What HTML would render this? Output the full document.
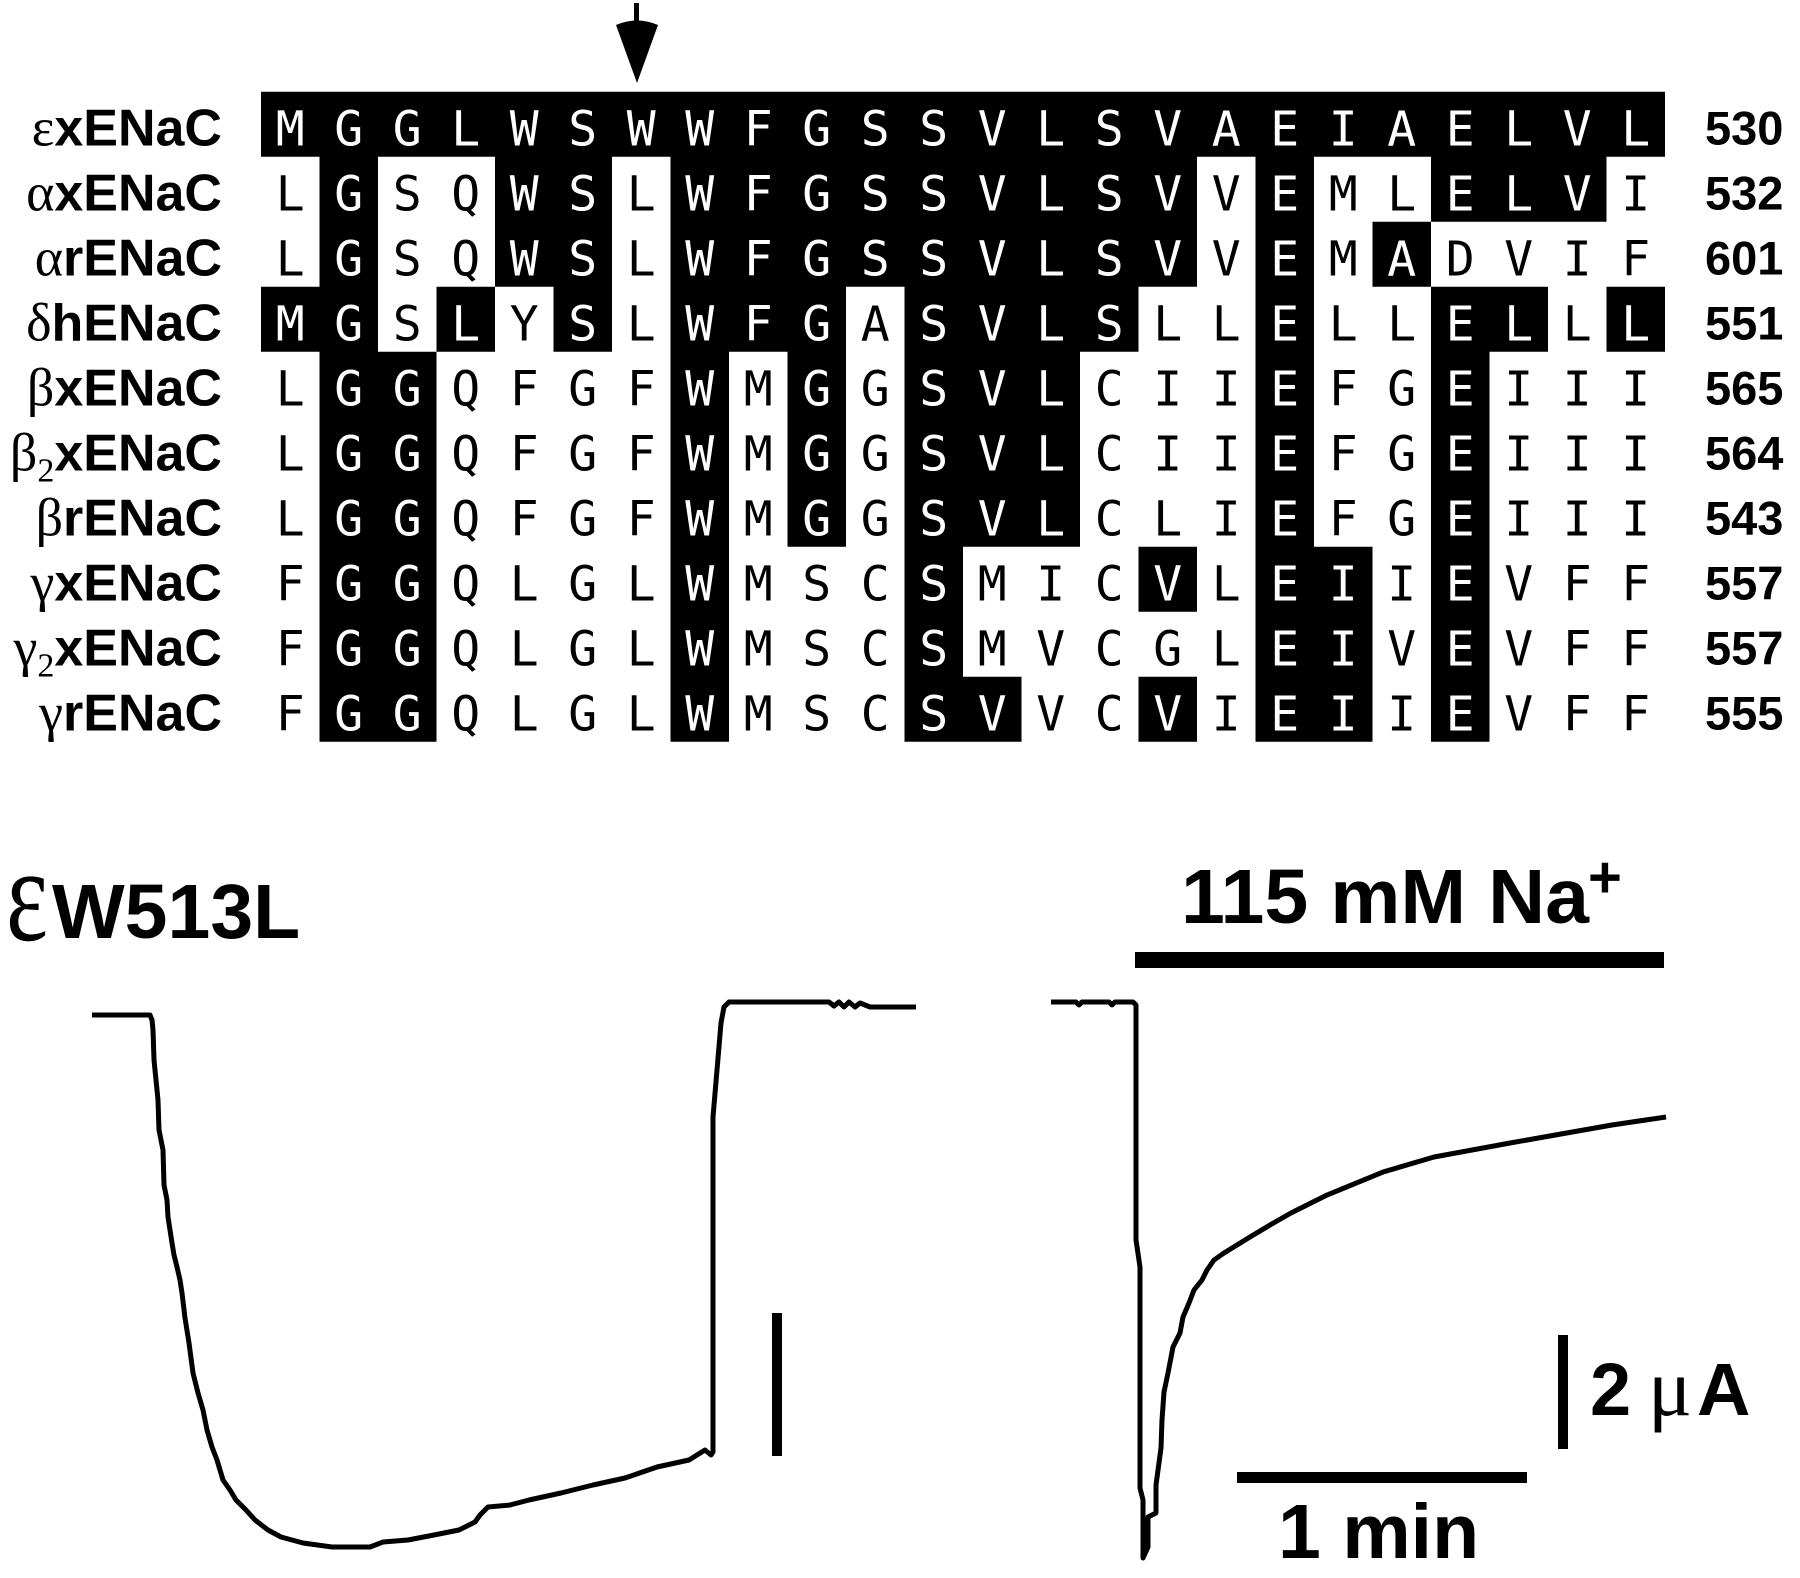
<!DOCTYPE html>
<html>
<head>
<meta charset="utf-8">
<style>
  html, body { margin:0; padding:0; background:#fff; }
  svg { display:block; }
  .lab { font-family:"Liberation Sans", sans-serif; font-weight:bold; font-size:52px; }
  .gk { font-family:"Liberation Serif", serif; font-weight:normal; font-size:54px; }
  .sub { font-family:"Liberation Serif", serif; font-weight:normal; font-size:34px; }
  .num { font-family:"Liberation Sans", sans-serif; font-weight:bold; font-size:47px; }
  .seq { font-family:"DejaVu Sans Mono", "Liberation Mono", monospace; font-size:48px; }
  .big { font-family:"Liberation Sans", sans-serif; font-weight:bold; }
</style>
</head>
<body>
<svg width="1800" height="1578" viewBox="0 0 1800 1578" xmlns="http://www.w3.org/2000/svg">
  <rect x="0" y="0" width="1800" height="1578" fill="#fff"/>
  <defs>
    <clipPath id="cp">
      <rect x="261" y="91.7" width="1404" height="65"/>
      <!-- row1 -->
      <rect x="319.5" y="156.7" width="58.5" height="65"/>
      <rect x="495" y="156.7" width="117" height="65"/>
      <rect x="670.5" y="156.7" width="526.5" height="65"/>
      <rect x="1255.5" y="156.7" width="58.5" height="65"/>
      <rect x="1431" y="156.7" width="175.5" height="65"/>
      <!-- row2 -->
      <rect x="319.5" y="221.7" width="58.5" height="65"/>
      <rect x="495" y="221.7" width="117" height="65"/>
      <rect x="670.5" y="221.7" width="526.5" height="65"/>
      <rect x="1255.5" y="221.7" width="58.5" height="65"/>
      <rect x="1372.5" y="221.7" width="58.5" height="65"/>
      <!-- row3 -->
      <rect x="261" y="286.7" width="117" height="65"/>
      <rect x="436.5" y="286.7" width="58.5" height="65"/>
      <rect x="553.5" y="286.7" width="58.5" height="65"/>
      <rect x="670.5" y="286.7" width="175.5" height="65"/>
      <rect x="904.5" y="286.7" width="234" height="65"/>
      <rect x="1255.5" y="286.7" width="58.5" height="65"/>
      <rect x="1431" y="286.7" width="117" height="65"/>
      <rect x="1606.5" y="286.7" width="58.5" height="65"/>
      <!-- rows 4-6 -->
      <rect x="319.5" y="351.7" width="117" height="195"/>
      <rect x="670.5" y="351.7" width="58.5" height="195"/>
      <rect x="787.5" y="351.7" width="58.5" height="195"/>
      <rect x="904.5" y="351.7" width="175.5" height="195"/>
      <rect x="1255.5" y="351.7" width="58.5" height="195"/>
      <rect x="1431" y="351.7" width="58.5" height="195"/>
      <!-- row7 -->
      <rect x="319.5" y="546.7" width="117" height="65"/>
      <rect x="670.5" y="546.7" width="58.5" height="65"/>
      <rect x="904.5" y="546.7" width="58.5" height="65"/>
      <rect x="1138.5" y="546.7" width="58.5" height="65"/>
      <rect x="1255.5" y="546.7" width="117" height="65"/>
      <rect x="1431" y="546.7" width="58.5" height="65"/>
      <!-- row8 -->
      <rect x="319.5" y="611.7" width="117" height="65"/>
      <rect x="670.5" y="611.7" width="58.5" height="65"/>
      <rect x="904.5" y="611.7" width="58.5" height="65"/>
      <rect x="1255.5" y="611.7" width="117" height="65"/>
      <rect x="1431" y="611.7" width="58.5" height="65"/>
      <!-- row9 -->
      <rect x="319.5" y="676.7" width="117" height="65"/>
      <rect x="670.5" y="676.7" width="58.5" height="65"/>
      <rect x="904.5" y="676.7" width="117" height="65"/>
      <rect x="1138.5" y="676.7" width="58.5" height="65"/>
      <rect x="1255.5" y="676.7" width="117" height="65"/>
      <rect x="1431" y="676.7" width="58.5" height="65"/>
    </clipPath>
    <g id="letters" class="seq" text-anchor="middle">
      <text x="290.25 348.75 407.25 465.75 524.25 582.75 641.25 699.75 758.25 816.75 875.25 933.75 992.25 1050.75 1109.25 1167.75 1226.25 1284.75 1343.25 1401.75 1460.25 1518.75 1577.25 1635.75" y="145.7">MGGLWSWWFGSSVLSVAEIAELVL</text>
      <text x="290.25 348.75 407.25 465.75 524.25 582.75 641.25 699.75 758.25 816.75 875.25 933.75 992.25 1050.75 1109.25 1167.75 1226.25 1284.75 1343.25 1401.75 1460.25 1518.75 1577.25 1635.75" y="210.7">LGSQWSLWFGSSVLSVVEMLELVI</text>
      <text x="290.25 348.75 407.25 465.75 524.25 582.75 641.25 699.75 758.25 816.75 875.25 933.75 992.25 1050.75 1109.25 1167.75 1226.25 1284.75 1343.25 1401.75 1460.25 1518.75 1577.25 1635.75" y="275.7">LGSQWSLWFGSSVLSVVEMADVIF</text>
      <text x="290.25 348.75 407.25 465.75 524.25 582.75 641.25 699.75 758.25 816.75 875.25 933.75 992.25 1050.75 1109.25 1167.75 1226.25 1284.75 1343.25 1401.75 1460.25 1518.75 1577.25 1635.75" y="340.7">MGSLYSLWFGASVLSLLELLELLL</text>
      <text x="290.25 348.75 407.25 465.75 524.25 582.75 641.25 699.75 758.25 816.75 875.25 933.75 992.25 1050.75 1109.25 1167.75 1226.25 1284.75 1343.25 1401.75 1460.25 1518.75 1577.25 1635.75" y="405.7">LGGQFGFWMGGSVLCIIEFGEIII</text>
      <text x="290.25 348.75 407.25 465.75 524.25 582.75 641.25 699.75 758.25 816.75 875.25 933.75 992.25 1050.75 1109.25 1167.75 1226.25 1284.75 1343.25 1401.75 1460.25 1518.75 1577.25 1635.75" y="470.7">LGGQFGFWMGGSVLCIIEFGEIII</text>
      <text x="290.25 348.75 407.25 465.75 524.25 582.75 641.25 699.75 758.25 816.75 875.25 933.75 992.25 1050.75 1109.25 1167.75 1226.25 1284.75 1343.25 1401.75 1460.25 1518.75 1577.25 1635.75" y="535.7">LGGQFGFWMGGSVLCLIEFGEIII</text>
      <text x="290.25 348.75 407.25 465.75 524.25 582.75 641.25 699.75 758.25 816.75 875.25 933.75 992.25 1050.75 1109.25 1167.75 1226.25 1284.75 1343.25 1401.75 1460.25 1518.75 1577.25 1635.75" y="600.7">FGGQLGLWMSCSMICVLEIIEVFF</text>
      <text x="290.25 348.75 407.25 465.75 524.25 582.75 641.25 699.75 758.25 816.75 875.25 933.75 992.25 1050.75 1109.25 1167.75 1226.25 1284.75 1343.25 1401.75 1460.25 1518.75 1577.25 1635.75" y="665.7">FGGQLGLWMSCSMVCGLEIVEVFF</text>
      <text x="290.25 348.75 407.25 465.75 524.25 582.75 641.25 699.75 758.25 816.75 875.25 933.75 992.25 1050.75 1109.25 1167.75 1226.25 1284.75 1343.25 1401.75 1460.25 1518.75 1577.25 1635.75" y="730.7">FGGQLGLWMSCSVVCVIEIIEVFF</text>
    </g>
  </defs>

  <!-- black letters on white -->
  <use href="#letters" fill="#000"/>
  <!-- black cells -->
  <rect x="0" y="0" width="1800" height="1578" fill="#000" clip-path="url(#cp)" shape-rendering="crispEdges"/>
  <!-- white letters inside black cells -->
  <g clip-path="url(#cp)">
    <use href="#letters" fill="#fff"/>
  </g>

  <!-- arrow -->
  <rect x="634" y="3" width="5" height="20" fill="#000"/>
  <path d="M616,25 Q637,16 658,25 L637,83 Z" fill="#000"/>

  <!-- row labels -->
  <g fill="#000">
    <text class="lab" x="222" y="145.7" text-anchor="end"><tspan class="gk">ε</tspan>xENaC</text>
    <text class="lab" x="222" y="210.7" text-anchor="end"><tspan class="gk">α</tspan>xENaC</text>
    <text class="lab" x="222" y="275.7" text-anchor="end"><tspan class="gk">α</tspan>rENaC</text>
    <text class="lab" x="222" y="340.7" text-anchor="end"><tspan class="gk">δ</tspan>hENaC</text>
    <text class="lab" x="222" y="405.7" text-anchor="end"><tspan class="gk">β</tspan>xENaC</text>
    <text class="lab" x="222" y="470.7" text-anchor="end"><tspan class="gk">β</tspan><tspan class="sub" dy="11">2</tspan><tspan dy="-11">xENaC</tspan></text>
    <text class="lab" x="222" y="535.7" text-anchor="end"><tspan class="gk">β</tspan>rENaC</text>
    <text class="lab" x="222" y="600.7" text-anchor="end"><tspan class="gk">γ</tspan>xENaC</text>
    <text class="lab" x="222" y="665.7" text-anchor="end"><tspan class="gk">γ</tspan><tspan class="sub" dy="11">2</tspan><tspan dy="-11">xENaC</tspan></text>
    <text class="lab" x="222" y="730.7" text-anchor="end"><tspan class="gk">γ</tspan>rENaC</text>
  </g>

  <!-- numbers -->
  <g class="num" fill="#000">
    <text x="1705" y="144.7">530</text>
    <text x="1705" y="209.7">532</text>
    <text x="1705" y="274.7">601</text>
    <text x="1705" y="339.7">551</text>
    <text x="1705" y="404.7">565</text>
    <text x="1705" y="469.7">564</text>
    <text x="1705" y="534.7">543</text>
    <text x="1705" y="599.7">557</text>
    <text x="1705" y="664.7">557</text>
    <text x="1705" y="729.7">555</text>
  </g>

  <!-- title εW513L -->
  <text transform="translate(6,940) scale(1,1.35)" font-family="Liberation Serif, serif" font-size="100" fill="#000">ε</text>
  <text class="big" x="52" y="938" font-size="77" fill="#000">W513L</text>

  <!-- 115 mM Na+ -->
  <text class="big" x="1181" y="923" font-size="77" textLength="408" lengthAdjust="spacingAndGlyphs" fill="#000">115 mM Na</text>
  <text class="big" x="1588" y="897" font-size="58" fill="#000">+</text>
  <rect x="1135" y="952" width="529" height="16" fill="#000"/>

  <!-- traces -->
  <g fill="none" stroke="#000" stroke-width="5" stroke-linejoin="round" stroke-linecap="butt">
    <polyline points="92,1015 150,1015 152,1020 153,1030 154,1060 158,1100 159,1130 163,1150 164,1185 167,1200 168,1217 172,1243 174,1255 177,1267 180,1280 182,1293 185,1318 189,1343 193,1373 198,1393 203,1410 207,1430 212,1447 217,1460 220,1470 223,1480 230,1490 236,1500 246,1510 255,1520 268,1530 281,1537 303,1543 332,1547 370,1547 383,1542 408,1540 434,1535 459,1530 475,1522 480,1515 488,1507 510,1505 529,1500 561,1493 593,1485 625,1478 657,1467 689,1460 705,1450 711,1455 713,1452 713,1117 721,1023 724,1007 729,1002 829,1002 834,1006 839,1002 844,1007 849,1002 855,1007 860,1003 870,1007 916,1007"/>
    <polyline points="1051,1002 1076,1002 1079,1005 1082,1002 1109,1002 1112,1005 1115,1002 1133,1002 1136,1005 1136,1240 1140,1267 1140,1488 1143,1500 1143,1558 1148,1547 1148,1517 1156,1513 1156,1485 1161,1448 1162,1420 1164,1392 1168,1373 1173,1347 1180,1333 1183,1317 1189,1303 1194,1290 1202,1280 1207,1270 1214,1260 1224,1253 1237,1245 1250,1237 1270,1225 1291,1213 1327,1195 1383,1172 1434,1157 1510,1143 1561,1134 1612,1125 1666,1117"/>
  </g>

  <!-- scale bars -->
  <rect x="772" y="1313" width="10" height="143" fill="#000"/>
  <rect x="1558" y="1335" width="10" height="114" fill="#000"/>
  <rect x="1237" y="1472" width="290" height="11" fill="#000"/>

  <!-- 2 µA -->
  <text class="big" x="1590" y="1415" font-size="74" fill="#000">2</text>
  <text x="1648" y="1415" font-family="Liberation Serif, serif" font-size="82" fill="#000">μ</text>
  <text class="big" x="1697" y="1415" font-size="74" fill="#000">A</text>

  <!-- 1 min -->
  <text class="big" x="1278" y="1558" font-size="77" fill="#000">1 min</text>
</svg>
</body>
</html>
